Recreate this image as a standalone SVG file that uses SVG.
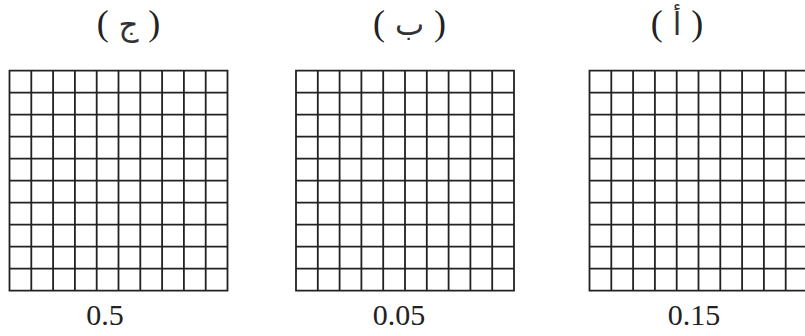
<svg xmlns="http://www.w3.org/2000/svg" xmlns:xlink="http://www.w3.org/1999/xlink" width="805" height="336" viewBox="0 0 805 336">
<style>
.grid{fill:none;stroke:#222;stroke-width:1.8;stroke-linecap:square}
.lbl{font-family:"Liberation Serif",serif;font-size:36px;fill:#222;text-anchor:middle}
.ar{font-family:"DejaVu Sans","Noto Sans",sans-serif;font-size:31px;fill:#333}
.num{font-family:"Liberation Serif",serif;font-size:30px;fill:#222;text-anchor:middle}
</style>
<defs>
<path id="g" class="grid" d="M0 0H218V220H0Z M21.8 0V220 M43.6 0V220 M65.4 0V220 M87.2 0V220 M109 0V220 M130.8 0V220 M152.6 0V220 M174.4 0V220 M196.2 0V220 M0 22H218 M0 44H218 M0 66H218 M0 88H218 M0 110H218 M0 132H218 M0 154H218 M0 176H218 M0 198H218"/>
</defs>
<rect width="805" height="336" fill="#fff"/>
<g id="grid-c">
<use xlink:href="#g" href="#g" x="9.5" y="70.7"/>
<text class="lbl" x="128.5" y="35">(<tspan class="ar"> ج </tspan>)</text>
<text class="num" x="105" y="325">0.5</text>
</g>
<g id="grid-b">
<use xlink:href="#g" href="#g" x="296" y="70.7"/>
<text class="lbl" x="409.5" y="35">(<tspan class="ar"> ب </tspan>)</text>
<text class="num" x="399" y="325">0.05</text>
</g>
<g id="grid-a">
<use xlink:href="#g" href="#g" x="589.5" y="70.7"/>
<text class="lbl" x="677" y="35">(<tspan class="ar"> أ </tspan>)</text>
<text class="num" x="694" y="325">0.15</text>
</g>
<g id="connectors"/>
</svg>
